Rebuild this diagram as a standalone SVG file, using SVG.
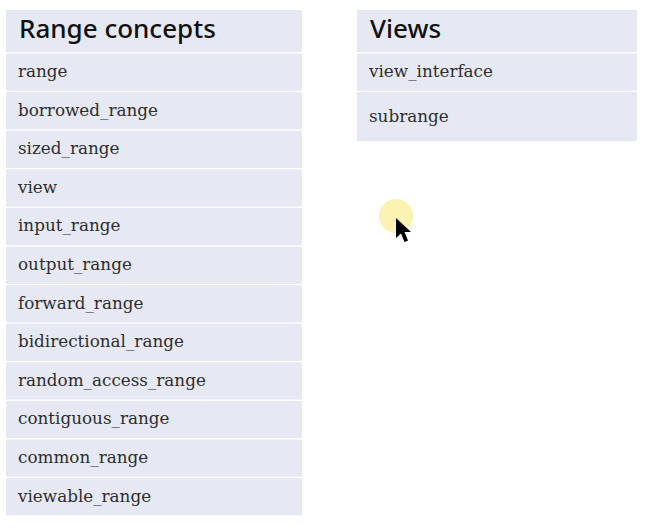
<svg xmlns="http://www.w3.org/2000/svg" width="647" height="528" viewBox="0 0 647 528">
<style>
.cell{fill:#e6e9f4}
.hdr{font-family:"Noto Sans","Open Sans",sans-serif;font-size:26px;font-weight:500;fill:#111}
.item{font-family:"DejaVu Serif","Liberation Serif",serif;font-size:16.8px;fill:#2e2e2e}
</style>
<rect width="647" height="528" fill="#ffffff"/>
<g id="range-concepts">
<rect class="cell" x="6" y="10" width="296" height="42"/>
<text class="hdr" x="19" y="38">Range concepts</text>
<rect class="cell" x="6" y="53.5" width="296" height="37.3"/><text class="item" x="18" y="77">range</text>
<rect class="cell" x="6" y="92.1" width="296" height="37.3"/><text class="item" x="18" y="115.6">borrowed_range</text>
<rect class="cell" x="6" y="130.7" width="296" height="37.3"/><text class="item" x="18" y="154.2">sized_range</text>
<rect class="cell" x="6" y="169.3" width="296" height="37.3"/><text class="item" x="18" y="192.8">view</text>
<rect class="cell" x="6" y="207.9" width="296" height="37.3"/><text class="item" x="18" y="231.4">input_range</text>
<rect class="cell" x="6" y="246.5" width="296" height="37.3"/><text class="item" x="18" y="270">output_range</text>
<rect class="cell" x="6" y="285.1" width="296" height="37.3"/><text class="item" x="18" y="308.6">forward_range</text>
<rect class="cell" x="6" y="323.7" width="296" height="37.3"/><text class="item" x="18" y="347.2">bidirectional_range</text>
<rect class="cell" x="6" y="362.3" width="296" height="37.3"/><text class="item" x="18" y="385.8">random_access_range</text>
<rect class="cell" x="6" y="400.9" width="296" height="37.3"/><text class="item" x="18" y="424.4">contiguous_range</text>
<rect class="cell" x="6" y="439.5" width="296" height="37.3"/><text class="item" x="18" y="463">common_range</text>
<rect class="cell" x="6" y="478.1" width="296" height="37.3"/><text class="item" x="18" y="501.6">viewable_range</text>
</g>
<g id="views">
<rect class="cell" x="357" y="10" width="280" height="42"/>
<text class="hdr" x="370" y="38">Views</text>
<rect class="cell" x="357" y="53.5" width="280" height="37.3"/><text class="item" x="369" y="77">view_interface</text>
<rect class="cell" x="357" y="92.1" width="280" height="49"/><text class="item" x="369" y="122">subrange</text>
</g>
<g id="connectors"></g>
<g id="cursor">
<circle cx="396" cy="216" r="17" fill="#fcf1a6" opacity="0.85"/>
<path d="M396 218 L396 238 L401 233.5 L404.5 242 L408 240.5 L404.5 232 L411 232 Z" fill="#000"/>
</g>
</svg>
